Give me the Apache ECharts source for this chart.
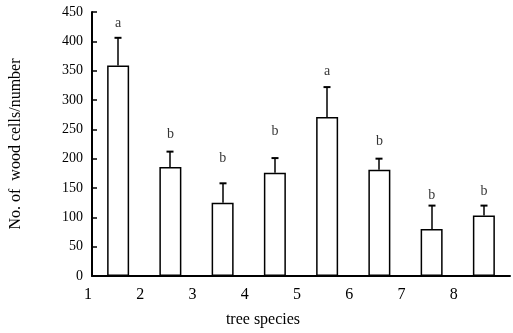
<!DOCTYPE html>
<html>
<head>
<meta charset="utf-8">
<script src="https://cdn.jsdelivr.net/npm/echarts@6/dist/echarts.min.js"></script>
<style>
html, body { margin: 0; padding: 0; background: #fff; }
#chart { width: 513px; height: 333px; }
</style>
</head>
<body>
<div id="chart"></div>
<script>
var species = ['1', '2', '3', '4', '5', '6', '7', '8'];
var means = [359, 186, 125, 176, 271, 181, 80, 103];
var errTops = [406, 212, 158, 201, 322, 200, 120, 120];
var letters = ['a', 'b', 'b', 'b', 'a', 'b', 'b', 'b'];
var letterY = [430, 242, 200, 247, 349, 230, 137, 144];
var yTicks = [0, 50, 100, 150, 200, 250, 300, 350, 400, 450];

var serif = '"Liberation Serif", "DejaVu Serif", serif';
var myChart = echarts.init(document.getElementById('chart'));

var errData = means.map(function (m, i) { return [i, m, errTops[i]]; });
var letterData = letterY.map(function (v, i) { return [i, v]; });

option = {
    animation: false,
    grid: { left: 92, right: 0, top: 12, bottom: 55 },
    xAxis: [
        {
            type: 'category',
            data: species,
            boundaryGap: true,
            axisLine: { lineStyle: { color: '#000', width: 2 } },
            axisTick: { inside: true, length: 5, lineStyle: { color: '#000', width: 1.5 } },
            axisLabel: { show: false },
            name: 'tree species',
            nameLocation: 'middle',
            nameGap: 36,
            nameTextStyle: { fontFamily: serif, fontSize: 16, color: '#000', padding: [0, 76, 0, 0] }
        },
        {
            type: 'value',
            min: 0,
            max: 8,
            interval: 1,
            position: 'bottom',
            axisLine: { show: false },
            axisTick: { show: false },
            splitLine: { show: false },
            axisLabel: {
                margin: 11,
                fontFamily: serif,
                fontSize: 16,
                color: '#000',
                padding: [0, 8, 0, 0],
                formatter: function (v) { return v < species.length ? species[v] : ''; }
            }
        }
    ],
    yAxis: {
        type: 'value',
        min: yTicks[0],
        max: yTicks[yTicks.length - 1],
        interval: 50,
        axisLine: { show: true, lineStyle: { color: '#000', width: 2 } },
        axisTick: { show: true, inside: true, length: 5, lineStyle: { color: '#000', width: 1.5 } },
        splitLine: { show: false },
        axisLabel: { margin: 9, fontFamily: serif, fontSize: 14, color: '#000' },
        name: 'No. of  wood cells/number',
        nameLocation: 'middle',
        nameGap: 68,
        nameTextStyle: { fontFamily: serif, fontSize: 16, color: '#000' }
    },
    series: [
        {
            type: 'bar',
            xAxisIndex: 0,
            data: means,
            barWidth: 22,
            itemStyle: { color: '#fff', borderColor: '#000', borderWidth: 1.5 }
        },
        {
            type: 'custom',
            xAxisIndex: 0,
            data: errData,
            renderItem: function (params, api) {
                var base = api.coord([api.value(0), api.value(1)]);
                var top = api.coord([api.value(0), api.value(2)]);
                var x = Math.round(base[0]);
                return {
                    type: 'group',
                    children: [
                        { type: 'line', shape: { x1: x, y1: base[1], x2: x, y2: top[1] }, style: { stroke: '#000', lineWidth: 1.5 } },
                        { type: 'line', shape: { x1: x - 3.5, y1: top[1], x2: x + 3.5, y2: top[1] }, style: { stroke: '#000', lineWidth: 2 } }
                    ]
                };
            }
        },
        {
            type: 'scatter',
            xAxisIndex: 0,
            data: letterData,
            symbolSize: 0,
            label: {
                show: true,
                position: 'inside',
                fontFamily: serif,
                fontSize: 14,
                color: '#000',
                formatter: function (p) { return letters[p.dataIndex]; }
            }
        }
    ]
};

myChart.setOption(option);
</script>
</body>
</html>
